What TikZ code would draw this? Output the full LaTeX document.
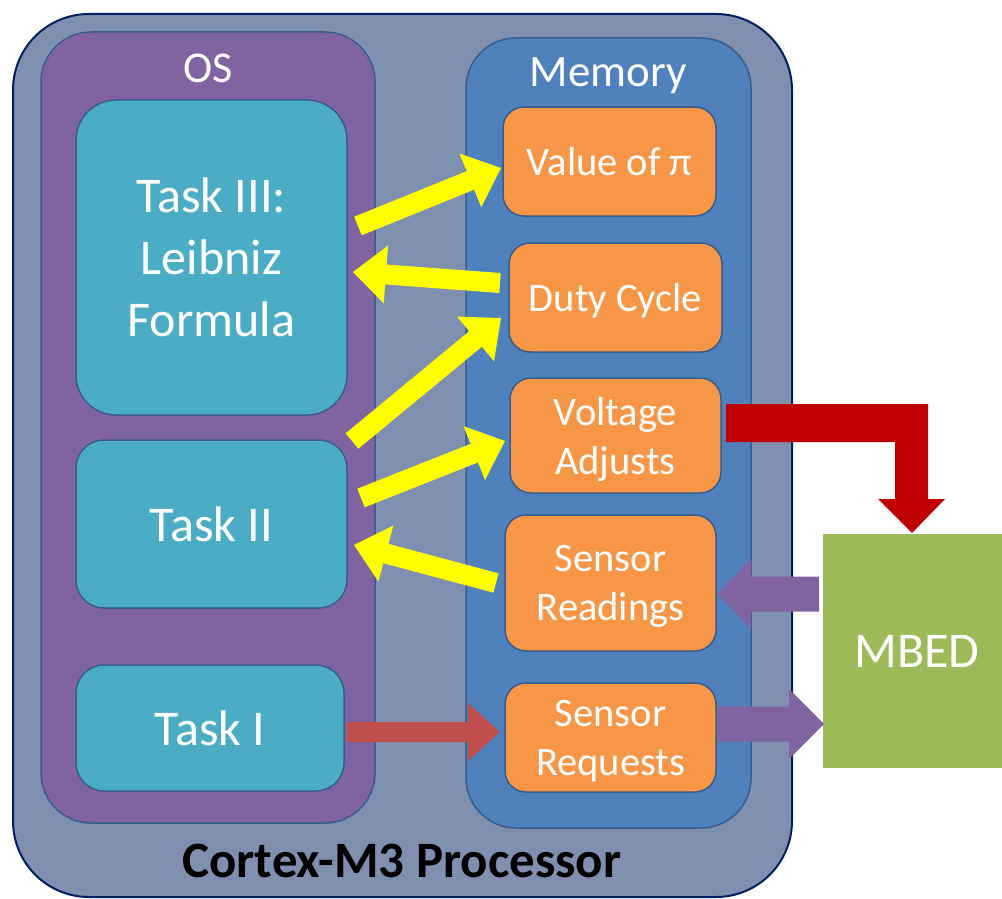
\documentclass[tikz,border=0pt]{standalone}
\usepackage{fontspec}
\setmainfont{Carlito}
\usetikzlibrary{calc}
\definecolor{outerfill}{RGB}{127,143,175}
\definecolor{outerline}{RGB}{0,32,96}
\definecolor{osfill}{RGB}{128,100,162}
\definecolor{boxline}{RGB}{56,93,138}
\definecolor{memfill}{RGB}{79,129,189}
\definecolor{taskfill}{RGB}{75,172,198}
\definecolor{itemfill}{RGB}{247,150,70}
\definecolor{mbedfill}{RGB}{155,187,89}
\definecolor{redarrow}{RGB}{192,80,77}
\definecolor{darkred}{RGB}{192,0,0}
\definecolor{purplearrow}{RGB}{128,100,162}
\definecolor{arrowyellow}{RGB}{255,255,0}
\newcommand\blockarrow[6]{%
  \coordinate (ba-h) at ($(#2)!#5!(#1)$);
  \fill[#6] ($(#1)!#3!90:(#2)$) -- ($(ba-h)!#3!90:(#2)$) -- ($(ba-h)!#4!90:(#2)$) -- (#2)
    -- ($(ba-h)!#4!-90:(#2)$) -- ($(ba-h)!#3!-90:(#2)$) -- ($(#1)!#3!-90:(#2)$) -- cycle;}
\tikzset{
  plainbox/.style={rectangle, inner sep=0pt, outer sep=0pt},
  outerbox/.style={plainbox, draw=outerline, line width=2pt, fill=outerfill, rounded corners=76pt},
  container/.style={plainbox, draw=boxline, line width=1.5pt, rounded corners=50pt},
  taskbox/.style={plainbox, draw=boxline, line width=1.5pt, fill=taskfill, text=white, align=center,
    font=\fontsize{50}{62}\selectfont},
  itembox/.style={plainbox, draw=boxline, line width=1.5pt, fill=itemfill, text=white, align=center,
    rounded corners=21pt, text depth=0pt, font=\fontsize{40.5}{49}\selectfont},
  mbedbox/.style={plainbox, fill=mbedfill, text=white, font=\fontsize{50}{62}\selectfont},
  title/.style={anchor=base, text=white, inner sep=0pt},
  yarrow/.style={fill=arrowyellow},
  rarrow/.style={fill=redarrow},
  parrow/.style={fill=purplearrow},
  drarrow/.style={fill=darkred}
}
\begin{document}
\begin{tikzpicture}[x=1pt,y=-1pt]
\useasboundingbox (0,0) rectangle (1002,899);
% containers
\node[outerbox, minimum width=779pt, minimum height=883pt] (cpu) at (402.5,455.5) {};
\node[container, fill=osfill, minimum width=334pt, minimum height=791pt] (os) at (208,427.5) {};
\node[container, fill=memfill, minimum width=285pt, minimum height=790pt] (mem) at (608.5,433) {};
\node[title, font=\fontsize{44}{53}\selectfont] (oslabel) at (208,82) {OS};
\node[title, font=\fontsize{45}{54}\selectfont] (memlabel) at (608,87) {Memory};
\node[anchor=base, inner sep=0pt, font=\fontsize{51}{60}\selectfont\bfseries] (cpulabel) at (402,877) {Cortex-M3 Processor};
% tasks
\node[taskbox, rounded corners=40pt, minimum width=271pt, minimum height=315pt] (t3) at (211.5,257.5) {Task III:\\Leibniz\\Formula};
\node[taskbox, rounded corners=28pt, minimum width=271pt, minimum height=168pt] (t2) at (211.5,524) {Task II};
\node[taskbox, rounded corners=28pt, minimum width=268pt, minimum height=126pt] (t1) at (210,728) {Task I};
% memory items
\node[itembox, minimum width=213pt, minimum height=109pt] (pi) at (609.5,161.5) {Value of π};
\node[itembox, minimum width=213pt, minimum height=109pt] (duty) at (615.5,297.5) {Duty Cycle};
\node[itembox, minimum width=211pt, minimum height=115pt] (volt) at (615.5,435.5) {Voltage\\Adjusts};
\node[itembox, minimum width=211pt, minimum height=136pt] (read) at (610.5,583) {Sensor\\Readings};
\node[itembox, minimum width=211pt, minimum height=109pt] (req) at (610.5,737.5) {Sensor\\Requests};
% MBED
\node[mbedbox, minimum width=188pt, minimum height=234pt] (mbed) at (917,651) {MBED};
% arrow end points
\coordinate (a1s) at (358,226);  \coordinate (a1e) at (501,168);
\coordinate (a2s) at (500,283);  \coordinate (a2e) at (353,272);
\coordinate (a3s) at (352,441);  \coordinate (a3e) at (501,318);
\coordinate (a4s) at (361,498);  \coordinate (a4e) at (505,441);
\coordinate (a5s) at (496,583);  \coordinate (a5e) at (354,545);
\coordinate (a6s) at (347,732);  \coordinate (a6e) at (500,732);
\coordinate (a7s) at (819,594);  \coordinate (a7e) at (717,594);
\coordinate (a8s) at (717,724);  \coordinate (a8e) at (824,724);
% yellow arrows
\blockarrow{a1s}{a1e}{10pt}{29pt}{33pt}{yarrow}
\blockarrow{a2s}{a2e}{10pt}{29pt}{33pt}{yarrow}
\blockarrow{a3s}{a3e}{10pt}{29pt}{33pt}{yarrow}
\blockarrow{a4s}{a4e}{10pt}{29pt}{33pt}{yarrow}
\blockarrow{a5s}{a5e}{10pt}{29pt}{33pt}{yarrow}
% Task I -> Sensor Requests
\blockarrow{a6s}{a6e}{10pt}{29pt}{32pt}{rarrow}
% MBED <-> memory
\blockarrow{a7s}{a7e}{17.5pt}{35pt}{34pt}{parrow}
\blockarrow{a8s}{a8e}{17.5pt}{35pt}{35pt}{parrow}
% Voltage Adjusts -> MBED (bent arrow)
\coordinate (b0) at (726,404);
\coordinate (b9) at (912,533);
\fill[drarrow] (b0) -- (928,404) -- (928,499) -- (945,499) -- (b9) -- (878,499) -- (895,499) -- (895,442) -- (726,442) -- cycle;
\end{tikzpicture}
\end{document}
